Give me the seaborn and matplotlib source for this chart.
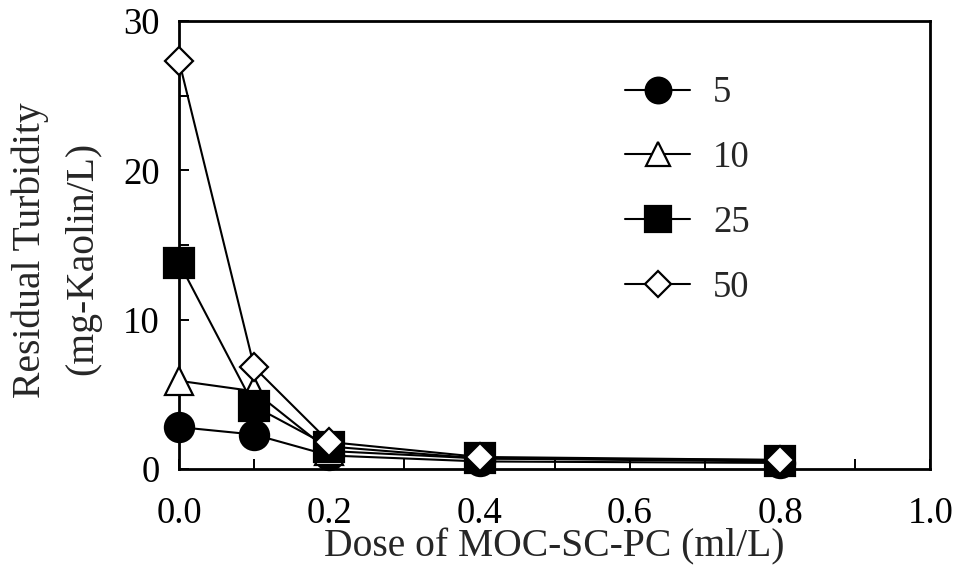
import matplotlib
matplotlib.use("Agg")
import matplotlib.pyplot as plt
from matplotlib.ticker import MultipleLocator
import seaborn as sns
import pandas as pd

# Coagulant dose (ml/L)
dose = [0.0, 0.1, 0.2, 0.4, 0.8]

# Residual turbidity (mg-Kaolin/L) for each initial turbidity
series_names = ["5", "10", "25", "50"]
turb_5 = [2.8, 2.3, 0.9, 0.5, 0.4]
turb_10 = [5.9, 5.2, 1.2, 0.7, 0.6]
turb_25 = [13.8, 4.2, 1.5, 0.7, 0.5]
turb_50 = [27.3, 6.8, 1.8, 0.8, 0.6]

x_ticks = [0.0, 0.2, 0.4, 0.6, 0.8, 1.0]
y_ticks = [0, 10, 20, 30]

sns.set_style("ticks")
plt.rcParams["font.family"] = ["Liberation Serif", "DejaVu Serif"]

TICK_FS = 26.5
LABEL_FS = 28.5

df = pd.concat(
    [
        pd.DataFrame({"dose": dose, "turbidity": vals, "initial": name})
        for name, vals in zip(series_names, [turb_5, turb_10, turb_25, turb_50])
    ],
    ignore_index=True,
)

styles = {
    "5": dict(marker="o", markerfacecolor="black", markersize=21),
    "10": dict(marker="^", markerfacecolor="white", markersize=20),
    "25": dict(marker="s", markerfacecolor="black", markersize=21),
    "50": dict(marker="D", markerfacecolor="white", markersize=14.5),
}

fig = plt.figure(figsize=(9.58, 5.67), dpi=100)
ax = fig.add_axes([0.187, 0.173, 0.784, 0.790])

for name in series_names:
    sub = df[df["initial"] == name]
    sns.lineplot(
        data=sub, x="dose", y="turbidity", ax=ax, color="black",
        linewidth=1.5, markeredgecolor="black", markeredgewidth=1.6,
        label=name, clip_on=False, zorder=3, **styles[name],
    )

ax.set_xlim(0, 1.0)
ax.set_ylim(0, 30)
ax.set_xticks(x_ticks)
ax.set_xticklabels([f"{v:.1f}" for v in x_ticks])
ax.set_yticks(y_ticks)
ax.xaxis.set_minor_locator(MultipleLocator(0.1))
ax.yaxis.set_minor_locator(MultipleLocator(5))
ax.tick_params(axis="both", which="both", direction="in", length=7, width=1.4,
               labelsize=TICK_FS, colors="black")
ax.tick_params(axis="x", which="major", pad=20)
ax.tick_params(axis="y", which="major", pad=14)

for side in ["left", "right", "top", "bottom"]:
    ax.spines[side].set_visible(True)
    ax.spines[side].set_linewidth(2.0)
    ax.spines[side].set_color("black")

ax.set_xlabel("Dose of MOC-SC-PC (ml/L)", fontsize=LABEL_FS, labelpad=-2)
ax.set_ylabel("")
fig.text(30 / 958, 1 - 250 / 567, "Residual Turbidity", rotation=90,
         ha="center", va="center", fontsize=LABEL_FS)
fig.text(83 / 958, 1 - 258 / 567, "(mg-Kaolin/L)", rotation=90,
         ha="center", va="center", fontsize=LABEL_FS)

handles, labels = ax.get_legend_handles_labels()
leg = ax.legend(
    handles, labels, loc="upper left", bbox_to_anchor=(625 / 958, 1 - 76 / 567),
    bbox_transform=fig.transFigure, frameon=False, fontsize=TICK_FS,
    handlelength=1.77, handletextpad=0.62, labelspacing=0.82, borderpad=0,
    borderaxespad=0, markerscale=0.88,
)

fig.savefig("out.png", dpi=100)
